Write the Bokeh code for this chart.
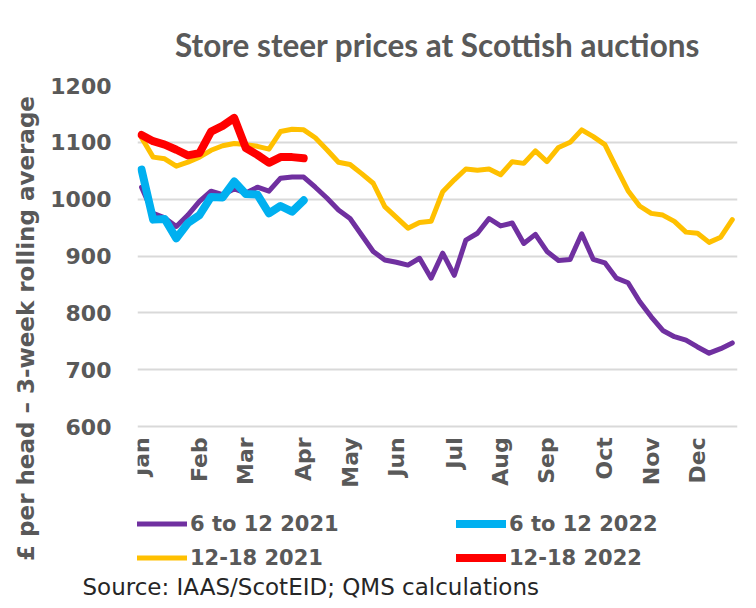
from math import pi
from bokeh.plotting import figure
from bokeh.models import Range1d, Legend, LegendItem, FixedTicker, Title
from bokeh.core.properties import value
from bokeh.embed import file_html
from bokeh.resources import INLINE

# ---- data (weekly, 3-week rolling average, GBP per head) ----
weeks_2021 = list(range(52))
steer_6_12_2021 = [1021, 975, 967, 952, 972, 996, 1014, 1008, 1018, 1011,
                   1021, 1014, 1037, 1039, 1039, 1021, 1002, 981, 966, 937,
                   908, 893, 889, 884, 896, 861, 905, 866, 928, 940,
                   966, 953, 958, 922, 938, 908, 892, 894, 939, 894,
                   888, 861, 853, 820, 793, 769, 758, 752, 740, 729,
                   737, 747]
steer_12_18_2021 = [1108, 1074, 1071, 1058, 1065, 1074, 1086, 1094, 1098, 1096,
                    1093, 1088, 1119, 1123, 1122, 1108, 1087, 1065, 1061, 1045,
                    1028, 987, 968, 949, 959, 961, 1013, 1034, 1053, 1051,
                    1053, 1043, 1066, 1063, 1085, 1066, 1091, 1100, 1122, 1110,
                    1096, 1055, 1015, 988, 975, 972, 961, 942, 940, 924,
                    933, 964]
weeks_2022 = list(range(15))
steer_6_12_2022 = [1052, 964, 965, 931, 958, 972, 1004, 1003, 1031, 1009,
                   1008, 975, 988, 978, 998]
steer_12_18_2022 = [1113, 1102, 1096, 1087, 1077, 1081, 1119, 1129, 1143, 1090,
                    1078, 1064, 1074, 1074, 1072]

month_ticks = [0, 5, 9, 14, 18, 22, 27, 31, 35, 40, 44, 48]
month_labels = ["Jan", "Feb", "Mar", "Apr", "May", "Jun",
                "Jul", "Aug", "Sep", "Oct", "Nov", "Dec"]
y_ticks = [600, 700, 800, 900, 1000, 1100, 1200]

# ---- layout / style constants ----
GREY = "#595959"
BOLD_FONT = "DejaVu Sans"
FRAME_TOP, FRAME_BOTTOM = 85, 571          # pixel rows of the plotting frame
PX_PER_100 = 341 / 6                       # gridline pitch in pixels
Y_MAX = 1200
Y_MIN = Y_MAX - (FRAME_BOTTOM - FRAME_TOP) * 100 / PX_PER_100
MONTH_LABEL_LEVEL = 581                    # value level where month labels hang

p = figure(width=748, height=600, output_backend="svg", toolbar_location=None,
           x_range=Range1d(-0.35, 51.45), y_range=Range1d(Y_MIN, Y_MAX),
           min_border_left=137, min_border_right=11,
           min_border_top=FRAME_TOP, min_border_bottom=600 - FRAME_BOTTOM)
p.title.text = "Store steer prices at Scottish auctions"
p.title.align = "center"
p.title.text_font = "Lato"
p.title.text_font_style = "bold"
p.title.text_font_size = "31.5px"
p.title.text_color = GREY
p.title.standoff = 43
p.outline_line_color = None
p.background_fill_color = "white"
p.border_fill_color = "white"

# x axis: month labels hang just under the 600 gridline
p.xaxis.visible = False
p.xgrid.grid_line_color = None
p.text(x=month_ticks, y=[MONTH_LABEL_LEVEL] * len(month_ticks), text=month_labels,
       angle=pi / 2, text_align="right", text_baseline="middle",
       text_font=value(BOLD_FONT), text_font_style="bold",
       text_font_size="22px", text_color=GREY)

# y axis
p.yaxis.ticker = FixedTicker(ticks=y_ticks)
p.yaxis.axis_line_color = None
p.yaxis.major_tick_line_color = None
p.yaxis.minor_tick_line_color = None
p.yaxis.major_label_text_font = BOLD_FONT
p.yaxis.major_label_text_font_style = "bold"
p.yaxis.major_label_text_font_size = "22px"
p.yaxis.major_label_text_color = GREY
p.yaxis.major_label_standoff = 20
p.yaxis.axis_label = "£ per head – 3-week rolling average"
p.yaxis.axis_label_text_font = BOLD_FONT
p.yaxis.axis_label_text_font_style = "bold"
p.yaxis.axis_label_text_font_size = "23px"
p.yaxis.axis_label_text_color = GREY
p.yaxis.axis_label_standoff = 8

p.ygrid.ticker = FixedTicker(ticks=y_ticks)
p.ygrid.grid_line_color = "#D9D9D9"
p.ygrid.grid_line_width = 2

r1 = p.line(weeks_2021, steer_6_12_2021, line_color="#7030A0", line_width=5,
            line_join="round", line_cap="round")
r2 = p.line(weeks_2021, steer_12_18_2021, line_color="#FFC000", line_width=5,
            line_join="round", line_cap="round")
r3 = p.line(weeks_2022, steer_6_12_2022, line_color="#00B0F0", line_width=8,
            line_join="round", line_cap="round")
r4 = p.line(weeks_2022, steer_12_18_2022, line_color="#FF0000", line_width=8,
            line_join="round", line_cap="round")

legend = Legend(items=[LegendItem(label="6 to 12 2021", renderers=[r1]),
                       LegendItem(label="6 to 12 2022", renderers=[r3]),
                       LegendItem(label="12-18 2021", renderers=[r2]),
                       LegendItem(label="12-18 2022", renderers=[r4])],
                ncols=2, orientation="horizontal",
                location=(0, 0), padding=0, margin=0, spacing=7,
                glyph_width=50, glyph_height=27, label_standoff=3,
                label_width=259, label_height=27,
                label_text_font=BOLD_FONT, label_text_font_style="bold",
                label_text_font_size="21px", label_text_color=GREY,
                background_fill_alpha=0, border_line_color=None)
p.add_layout(legend, "center")

source = Title(text="Source: IAAS/ScotEID; QMS calculations", align="left",
               offset=-55, text_font="DejaVu Sans", text_font_style="normal",
               text_font_size="23px", text_color="#262626", standoff=0)
p.add_layout(source, "below")

open("out.html", "w").write(file_html(p, INLINE))
